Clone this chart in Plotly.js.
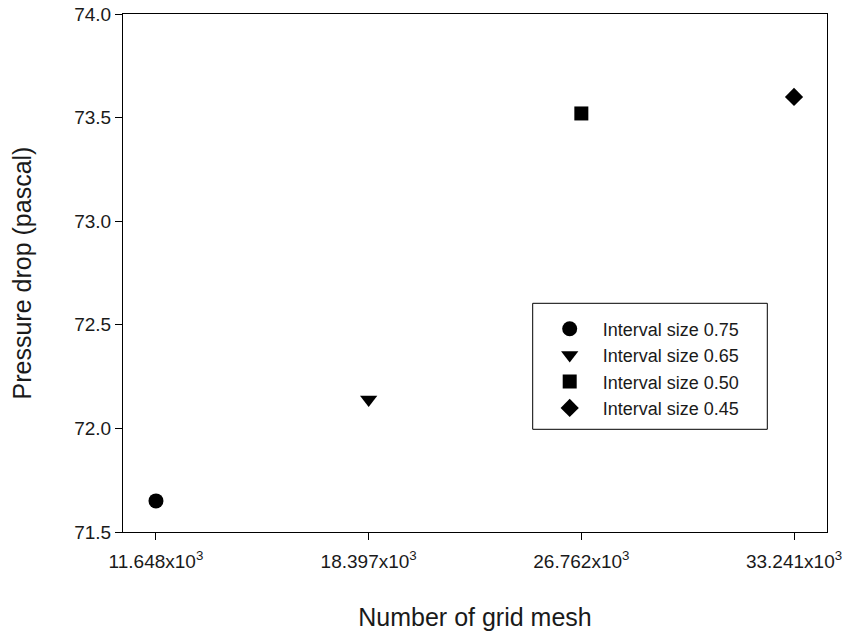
<!DOCTYPE html>
<html>
<head>
<meta charset="utf-8">
<script src="https://cdn.plot.ly/plotly-3.0.1.min.js"></script>
<style>html,body{margin:0;padding:0;background:#fff;}#chart{width:847px;height:635px;}</style>
</head>
<body>
<div id="chart"></div>
<script>
const meshLabels = ['11.648x10<sup>3</sup>', '18.397x10<sup>3</sup>', '26.762x10<sup>3</sup>', '33.241x10<sup>3</sup>'];
const pressureDrop = [71.65, 72.14, 73.52, 73.60];
const seriesNames = ['Interval size 0.75', 'Interval size 0.65', 'Interval size 0.50', 'Interval size 0.45'];
const symbols = ['circle', 'triangle-down', 'square', 'diamond'];
const markerSizes = [15, 15, 14, 14];
const yTicks = [71.5, 72.0, 72.5, 73.0, 73.5, 74.0];

const FONT = 'Arial, "Liberation Sans", sans-serif';
const TXT = '#1a1a1a';

const traces = meshLabels.map((lab, i) => ({
  type: 'scatter',
  mode: 'markers',
  x: [lab],
  y: [pressureDrop[i]],
  name: seriesNames[i],
  marker: {symbol: symbols[i], size: markerSizes[i], color: '#000'},
  cliponaxis: false
}));

const L = 123, R = 20, T = 14, B = 103;
const W = 847, H = 635;
const pw = W - L - R, ph = H - T - B;
const px = v => (v - L) / pw;
const py = v => (H - B - v) / ph;

const layout = {
  width: W, height: H,
  margin: {l: L, r: R, t: T, b: B, pad: 0},
  paper_bgcolor: '#fff', plot_bgcolor: '#fff',
  font: {family: FONT, color: TXT, size: 19},
  showlegend: true,
  legend: {
    x: px(532.7), y: py(310.5), xanchor: 'left', yanchor: 'top',
    bgcolor: 'rgba(0,0,0,0)', borderwidth: 0,
    font: {family: FONT, size: 18, color: TXT},
    itemwidth: 56, indentation: 4
  },
  xaxis: {
    type: 'category',
    categoryarray: meshLabels,
    range: [-0.155, 3.155],
    showgrid: false, zeroline: false,
    showline: true, linecolor: '#000', linewidth: 1, mirror: true,
    ticks: 'outside', ticklen: 7, tickwidth: 1, tickcolor: '#000',
    ticklabelstandoff: 5,
    tickfont: {family: FONT, size: 19, color: TXT},
    title: {text: 'Number of grid mesh', font: {family: FONT, size: 25, color: TXT}, standoff: 37}
  },
  yaxis: {
    range: [71.5, 74.0],
    tickvals: yTicks,
    tickformat: '.1f',
    showgrid: false, zeroline: false,
    showline: true, linecolor: '#000', linewidth: 1, mirror: true,
    ticks: 'outside', ticklen: 7, tickwidth: 1, tickcolor: '#000',
    tickfont: {family: FONT, size: 19, color: TXT},
    title: {text: 'Pressure drop (pascal)', font: {family: FONT, size: 25, color: TXT}, standoff: 35}
  },
  shapes: [{
    type: 'rect', xref: 'paper', yref: 'paper',
    x0: px(532.7), x1: px(767.3), y0: py(429.3), y1: py(303.3),
    line: {color: '#000', width: 1}, fillcolor: 'rgba(0,0,0,0)'
  }]
};

Plotly.newPlot('chart', traces, layout, {displayModeBar: false, staticPlot: true});
</script>
</body>
</html>
